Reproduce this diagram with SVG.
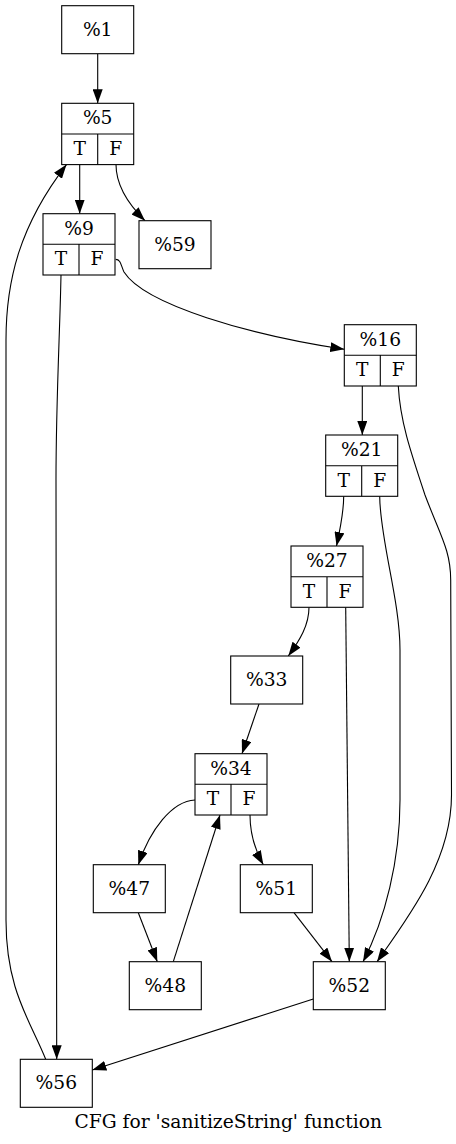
<svg xmlns="http://www.w3.org/2000/svg" width="456" height="1144" viewBox="0 0 456 1144">
  <style>
    .box { fill: #ffffff; stroke: #000000; stroke-width: 1.1; }
    .sep { fill: none; stroke: #000000; stroke-width: 1.1; }
    .lbl { font-family: "DejaVu Serif", "Liberation Serif", serif; font-size: 18.67px; fill: #000000; text-anchor: middle; }
    .edge { fill: none; stroke: #000000; stroke-width: 1.1; marker-end: url(#head); }
  </style>
  <defs>
    <marker id="head" markerUnits="userSpaceOnUse" viewBox="0 0 14.2 10" markerWidth="14.2" markerHeight="10" refX="14" refY="5" orient="auto">
      <path d="M0,0 L14,5 L0,10 Z" fill="#000000"/>
    </marker>
  </defs>
  <rect width="456" height="1144" fill="#ffffff"/>

  <!-- control-flow edges -->
  <g id="edges">
    <path class="edge" d="M97.7,53.7 L97.7,103.3"/>
    <path class="edge" d="M79.7,164.6 L79.7,213.7"/>
    <path class="edge" d="M116,164.6 C116,186 128,204 145,220.7"/>
    <path class="edge" d="M61,275 C60,330 56,400 56,480 L56.7,1059.3"/>
    <path class="edge" d="M115.7,259.4 C121,259.4 121,266 124,272 C145,305 250,335 344.3,349.3"/>
    <path class="edge" d="M362.3,386 L362.3,435"/>
    <path class="edge" d="M398.3,386 C400,420 410,450 425,495 C440,535 450.7,550 450.7,580 L451.5,795 C451.5,860 410,915 377,961.7"/>
    <path class="edge" d="M343.7,496.3 C343.7,512 340,530 336.5,546"/>
    <path class="edge" d="M379.7,496.3 C380,540 400,600 400,650 L400,800 C400,860 385,920 363,961.7"/>
    <path class="edge" d="M309,607.3 C309,625 300,640 288.3,656"/>
    <path class="edge" d="M345.7,607.3 L349.3,961.7"/>
    <path class="edge" d="M259,704 L242,753.7"/>
    <path class="edge" d="M195,800 C172,801 150,830 138.3,864.7"/>
    <path class="edge" d="M250,815 C250,835 255,850 263.3,864.7"/>
    <path class="edge" d="M138.3,912.7 L157.3,961.7"/>
    <path class="edge" d="M173.3,961.7 L220,815"/>
    <path class="edge" d="M294,912.7 L332,961.7"/>
    <path class="edge" d="M313.3,999 L92.3,1070"/>
    <path class="edge" d="M45.7,1059.3 C30,1020 6,990 6,920 L6,340 C6,280 20,225 66.5,164.6"/>
  </g>

  <!-- basic blocks -->
  <g id="n1">
    <rect class="box" x="61.7" y="5.7" width="72" height="48"/>
    <text class="lbl" x="97.7" y="35.7">%1</text>
  </g>
  <g id="n5">
    <rect class="box" x="61.7" y="103.3" width="72" height="61.3"/>
    <path class="sep" d="M61.7,134 H133.7 M97.7,134 V164.6"/>
    <text class="lbl" x="97.7" y="124.3">%5</text>
    <text class="lbl" x="79.7" y="154.8">T</text>
    <text class="lbl" x="115.7" y="154.8">F</text>
  </g>
  <g id="n9">
    <rect class="box" x="43" y="213.7" width="72" height="61.3"/>
    <path class="sep" d="M43,244.3 H115 M79,244.3 V275"/>
    <text class="lbl" x="79" y="234.7">%9</text>
    <text class="lbl" x="61" y="265.2">T</text>
    <text class="lbl" x="97" y="265.2">F</text>
  </g>
  <g id="n59">
    <rect class="box" x="139" y="220.7" width="72" height="48"/>
    <text class="lbl" x="175" y="250.7">%59</text>
  </g>
  <g id="n16">
    <rect class="box" x="344.3" y="324.7" width="72" height="61.3"/>
    <path class="sep" d="M344.3,355.3 H416.3 M380.3,355.3 V386"/>
    <text class="lbl" x="380.3" y="345.7">%16</text>
    <text class="lbl" x="362.3" y="376.2">T</text>
    <text class="lbl" x="398.3" y="376.2">F</text>
  </g>
  <g id="n21">
    <rect class="box" x="325.7" y="435" width="72" height="61.3"/>
    <path class="sep" d="M325.7,465.7 H397.7 M361.7,465.7 V496.3"/>
    <text class="lbl" x="361.7" y="456">%21</text>
    <text class="lbl" x="343.7" y="486.5">T</text>
    <text class="lbl" x="379.7" y="486.5">F</text>
  </g>
  <g id="n27">
    <rect class="box" x="291" y="546" width="72" height="61.3"/>
    <path class="sep" d="M291,576.7 H363 M327,576.7 V607.3"/>
    <text class="lbl" x="327" y="567">%27</text>
    <text class="lbl" x="309" y="597.5">T</text>
    <text class="lbl" x="345" y="597.5">F</text>
  </g>
  <g id="n33">
    <rect class="box" x="230.7" y="656" width="72" height="48"/>
    <text class="lbl" x="266.7" y="686">%33</text>
  </g>
  <g id="n34">
    <rect class="box" x="195" y="753.7" width="72" height="61.3"/>
    <path class="sep" d="M195,784.3 H267 M231,784.3 V815"/>
    <text class="lbl" x="231" y="774.7">%34</text>
    <text class="lbl" x="213" y="805.2">T</text>
    <text class="lbl" x="249" y="805.2">F</text>
  </g>
  <g id="n47">
    <rect class="box" x="93.3" y="864.7" width="72" height="48"/>
    <text class="lbl" x="129.3" y="894.7">%47</text>
  </g>
  <g id="n51">
    <rect class="box" x="240.3" y="864.7" width="72" height="48"/>
    <text class="lbl" x="276.3" y="894.7">%51</text>
  </g>
  <g id="n48">
    <rect class="box" x="129.3" y="961.7" width="72" height="48"/>
    <text class="lbl" x="165.3" y="991.7">%48</text>
  </g>
  <g id="n52">
    <rect class="box" x="313.3" y="961.7" width="72" height="48"/>
    <text class="lbl" x="349.3" y="991.7">%52</text>
  </g>
  <g id="n56">
    <rect class="box" x="20.3" y="1059.3" width="72" height="48"/>
    <text class="lbl" x="56.3" y="1089.3">%56</text>
  </g>

  <text class="lbl" x="228.3" y="1128.3">CFG for 'sanitizeString' function</text>
</svg>
